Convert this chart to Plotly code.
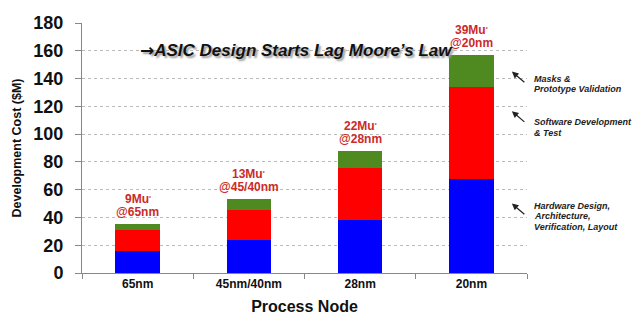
import plotly.graph_objects as go

nodes = ["65nm", "45nm/40nm", "28nm", "20nm"]
hardware = [16, 24, 38.5, 67.5]
software = [15, 21.5, 37, 66.5]
masks = [4, 7.5, 12, 23]
unit_labels = ["9Mu", "13Mu", "22Mu", "39Mu"]
node_labels = ["@65nm", "@45/40nm", "@28nm", "@20nm"]
y_ticks = [0, 20, 40, 60, 80, 100, 120, 140, 160, 180]

FONT = "Arial, Liberation Sans, sans-serif"
LABEL_RED = "#CC2A2A"

fig = go.Figure()
fig.add_bar(x=nodes, y=hardware, marker=dict(color="#0000FF", line=dict(width=0)), name="Hardware")
fig.add_bar(x=nodes, y=software, marker=dict(color="#FF0000", line=dict(width=0)), name="Software")
fig.add_bar(x=nodes, y=masks, marker=dict(color="#4E8A1F", line=dict(width=0)), name="Masks")

annotations = []
lab_font = dict(family=FONT, size=12, color=LABEL_RED, weight="bold")
for i, n in enumerate(nodes):
    total = hardware[i] + software[i] + masks[i]
    annotations.append(dict(
        x=n, y=total, xref="x", yref="y", yanchor="bottom", yshift=3,
        text=node_labels[i], showarrow=False, font=lab_font,
    ))
    annotations.append(dict(
        x=n, y=total, xref="x", yref="y", yanchor="bottom", yshift=16,
        text=unit_labels[i] + "<span style='font-size:7px'><sup>*</sup></span>",
        showarrow=False, font=lab_font,
    ))

# side notes with arrows: (arrow head y, [(line y, text), ...])
notes = [
    (145, [(139.5, "Masks &"), (132.3, "Prototype Validation")]),
    (116.5, [(108.7, "Software Development"), (100.9, "& Test")]),
    (50, [(48.6, "Hardware Design,"), (40.8, "Architecture,"), (32.9, "Verification, Layout")]),
]
note_font = dict(family=FONT, size=9, color="#222222", weight="bold", style="italic")
for head_y, lines in notes:
    annotations.append(dict(
        x=0.966, y=head_y, xref="paper", yref="y", text="", showarrow=True,
        ax=14, ay=12, arrowhead=2, arrowsize=1.1, arrowwidth=1.2, arrowcolor="#222222",
    ))
    for ly, txt in lines:
        annotations.append(dict(
            x=1.011, y=ly, xref="paper", yref="y", xanchor="left", yanchor="middle",
            align="left", text=txt, showarrow=False, font=note_font,
        ))

annotations.append(dict(
    x=0.125, y=160.5, xref="paper", yref="y", xanchor="left", yanchor="middle",
    text="<span style='font-family:DejaVu Sans'>→</span>ASIC Design Starts Lag Moore’s Law",
    showarrow=False,
    font=dict(family=FONT, size=17, color="#111111", weight="bold", style="italic",
              shadow="2px 2px 2px #999999"),
))

fig.update_layout(
    width=635, height=325,
    margin=dict(l=82, r=108, t=23, b=50),
    paper_bgcolor="white", plot_bgcolor="white",
    barmode="stack", bargap=0.6, showlegend=False,
    annotations=annotations,
    font=dict(family=FONT),
)
fig.update_yaxes(
    range=[0, 180], tickvals=y_ticks, ticks="outside", ticklen=6, tickcolor="#888888",
    showline=True, linecolor="#888888", linewidth=1,
    showgrid=True, gridcolor="#BBBBBB", griddash="dot", gridwidth=1, zeroline=False,
    tickfont=dict(family=FONT, size=18, color="#111111", weight="bold"),
    ticklabelstandoff=8,
    title=dict(text="Development Cost ($M)", standoff=8,
               font=dict(family=FONT, size=12.5, color="#111111", weight="bold")),
)
fig.update_xaxes(
    ticks="outside", tickson="boundaries", ticklen=5, tickcolor="#888888",
    showline=True, linecolor="#888888", linewidth=1,
    tickfont=dict(family=FONT, size=12, color="#111111", weight="bold"),
    title=dict(text="Process Node", standoff=10,
               font=dict(family=FONT, size=16, color="#111111", weight="bold")),
)

fig.write_html("out.html")
